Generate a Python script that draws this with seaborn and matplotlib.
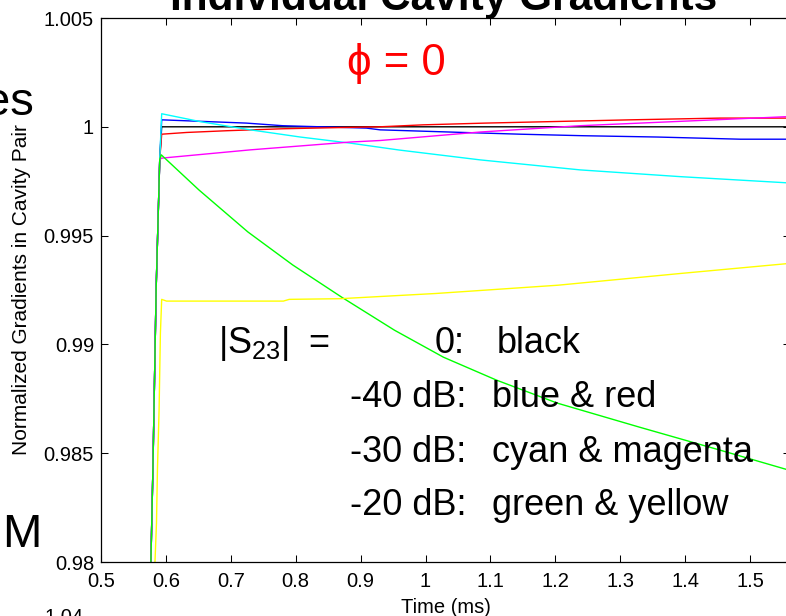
import matplotlib
matplotlib.use("Agg")
import matplotlib.pyplot as plt
import seaborn as sns
import pandas as pd

# ---------------- data ----------------
rise_t = [0.5765, 0.580, 0.585, 0.5905]
rise_v = [0.9795, 0.9843, 0.9926, 0.9985]

black_t = [0.5935, 1.0, 1.56]
black_v = [1.0000, 1.0000, 1.0000]

blue_t = [0.5935, 0.724, 0.78, 0.909, 0.93, 1.058, 1.146, 1.243, 1.357, 1.485, 1.56]
blue_v = [1.00032, 1.00017, 1.00005, 0.99994, 0.99986, 0.99974, 0.99966, 0.99959, 0.99953, 0.99943, 0.99943]

red_t = [0.5935, 0.632, 0.694, 0.78, 0.909, 0.93, 0.996, 1.092, 1.196, 1.315, 1.454, 1.56]
red_v = [0.99966, 0.99974, 0.99982, 0.99991, 0.99999, 1.0, 1.00009, 1.00017, 1.00024, 1.00032, 1.0004, 1.0004]

cyan_t = [0.5935, 0.6525, 0.73, 0.807, 0.884, 0.96, 1.084, 1.238, 1.392, 1.56]
cyan_v = [1.0006, 1.00024, 0.99986, 0.99953, 0.99925, 0.99893, 0.99848, 0.99802, 0.99771, 0.99742]

magenta_t = [0.5935, 0.73, 0.884, 0.93, 1.084, 1.238, 1.392, 1.56]
magenta_v = [0.99856, 0.99894, 0.9993, 0.99937, 0.99976, 1.00005, 1.00025, 1.00047]

green_t = [0.5929, 0.6508, 0.7262, 0.7954, 0.8708, 0.9523, 1.0277, 1.1092, 1.2031, 1.3292, 1.4538, 1.56]
green_v = [0.99871, 0.99710, 0.99517, 0.99365, 0.99217, 0.99065, 0.98941, 0.98836, 0.98730, 0.98620, 0.98514, 0.98422]

yellow_t = [0.5825, 0.5855, 0.587, 0.5895, 0.5915, 0.5935, 0.601, 0.781, 0.79, 0.868, 1.016, 1.204, 1.393, 1.56]
yellow_v = [0.9795, 0.9818, 0.9843, 0.9870, 0.9905, 0.99207, 0.99199, 0.99199, 0.99207, 0.9921, 0.99234, 0.99272, 0.99326, 0.99372]

series_names = ["black", "blue", "red", "cyan", "magenta", "green", "yellow"]
series_colors = ["#000000", "#0000ff", "#ff0000", "#00ffff", "#ff00ff", "#00ff00", "#ffff00"]

xticks = [0.5, 0.6, 0.7, 0.8, 0.9, 1.0, 1.1, 1.2, 1.3, 1.4, 1.5]
xtick_labels = ["0.5", "0.6", "0.7", "0.8", "0.9", "1", "1.1", "1.2", "1.3", "1.4", "1.5"]
yticks = [0.98, 0.985, 0.99, 0.995, 1.0, 1.005]
ytick_labels = ["0.98", "0.985", "0.99", "0.995", "1", "1.005"]

legend_levels = ["0:", "-40 dB:", "-30 dB:", "-20 dB:"]
legend_colors = ["black", "blue & red", "cyan & magenta", "green & yellow"]

# ---------------- build table ----------------
rows = []
all_t = {"black": rise_t + black_t, "blue": rise_t + blue_t, "red": rise_t + red_t,
         "cyan": rise_t + cyan_t, "magenta": rise_t + magenta_t, "green": rise_t + green_t,
         "yellow": yellow_t}
all_v = {"black": rise_v + black_v, "blue": rise_v + blue_v, "red": rise_v + red_v,
         "cyan": rise_v + cyan_v, "magenta": rise_v + magenta_v, "green": rise_v + green_v,
         "yellow": yellow_v}
for name in series_names:
    for t, v in zip(all_t[name], all_v[name]):
        rows.append({"series": name, "t": t, "v": v})
df = pd.DataFrame(rows)

# ---------------- style ----------------
sns.set_style("ticks")
plt.rcParams["font.family"] = ["Liberation Sans", "DejaVu Sans"]
plt.rcParams["mathtext.fontset"] = "custom"
plt.rcParams["mathtext.rm"] = "Liberation Sans"
plt.rcParams["mathtext.it"] = "Liberation Sans"
for k in ["text.color", "axes.labelcolor", "xtick.color", "ytick.color", "axes.edgecolor"]:
    plt.rcParams[k] = "black"

W, H = 786, 616
fig = plt.figure(figsize=(W / 100, H / 100), dpi=100)
fig.patch.set_facecolor("white")
ax = fig.add_axes([101 / W, 54 / H, 689 / W, 544 / H])

for name, col in zip(series_names, series_colors):
    sub = df[df["series"] == name]
    sns.lineplot(data=sub, x="t", y="v", color=col, lw=1.0, ax=ax,
                 estimator=None, sort=False, legend=False)

ax.set_xlim(0.5, 1.5615)
ax.set_ylim(0.98, 1.005)
ax.set_xticks(xticks)
ax.set_xticklabels(xtick_labels)
ax.set_yticks(yticks)
ax.set_yticklabels(ytick_labels)
ax.tick_params(direction="in", length=5, width=0.75, labelsize=14.5,
               top=True, right=True, pad=5, colors="black")
ax.tick_params(axis="x", pad=7)
for s in ax.spines.values():
    s.set_visible(True)
    s.set_linewidth(0.9)
    s.set_color("black")
ax.set_xlabel("Time (ms)", fontsize=14.5, labelpad=5, color="black")
ax.set_ylabel("Normalized Gradients in Cavity Pair", fontsize=15, labelpad=9, color="black")
ax.grid(False)


def P(x, y):
    return x / W, 1 - y / H


# title (cut off at top of the slide crop, as in the reference)
fig.text(*P(443.5, 10), "Individual Cavity Gradients", ha="center", va="baseline",
         fontsize=30.5, fontweight="bold", color="black")
# slide fragments visible around the chart
fig.text(*P(34, 115), "es", ha="right", va="baseline", fontsize=34, color="black")
fig.text(*P(41, 547), "M", ha="right", va="baseline", fontsize=34, color="black")
fig.text(*P(44, 623), "1.04", ha="left", va="baseline", fontsize=14.5, color="black")

# phi = 0
fig.text(*P(396, 75), "\u03d5 = 0", ha="center", va="baseline", fontsize=31.5,
         color="#ff0000", family=["Liberation Sans", "DejaVu Sans"])

# S23 legend
fs = 26
fig.text(*P(218, 353), r"|S$_{\mathregular{23}}$|", ha="left", va="baseline", fontsize=fs, color="black")
fig.text(*P(308, 353), "=", ha="left", va="baseline", fontsize=fs, color="black")
level_x = [435, 350, 350, 350]
base_y = [353, 407, 462, 515]
for lvl, lx, by, txt in zip(legend_levels, level_x, base_y, legend_colors):
    fig.text(*P(lx, by), lvl, ha="left", va="baseline", fontsize=fs, color="black")
    fig.text(*P(497 if txt == "black" else 492, by), txt, ha="left", va="baseline",
             fontsize=fs, color="black")

fig.savefig("out.png", dpi=100, facecolor="white")
